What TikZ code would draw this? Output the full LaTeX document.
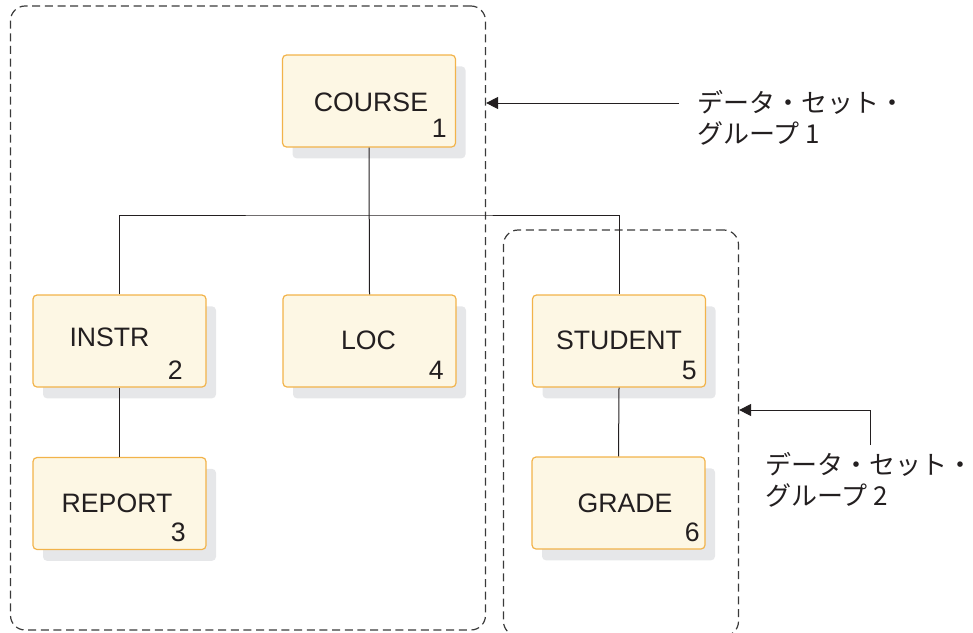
\documentclass[tikz,border=0pt]{standalone}
\usepackage{fontspec}
\setmainfont{Liberation Sans}
\newfontfamily\jpfont{Noto Sans CJK JP}
\usetikzlibrary{arrows.meta,shadows}
\definecolor{boxfill}{HTML}{FDF7E4}
\definecolor{boxline}{HTML}{F2B34A}
\definecolor{shadowgray}{HTML}{E6E7E9}
\definecolor{dashgray}{HTML}{3A3A3A}
\definecolor{inkcol}{HTML}{231F20}
\begin{document}
\begin{tikzpicture}[x=0.75pt,y=-0.75pt,
  segbox/.style={draw=boxline, line width=0.9pt, fill=boxfill, rounded corners=3pt,
    minimum width=129.75pt, minimum height=69pt, inner sep=0pt,
    drop shadow={shadow xshift=7.5pt, shadow yshift=-8.5pt, fill=shadowgray, opacity=1}},
  segname/.style={anchor=base, inner sep=0pt, text=inkcol, font=\fontsize{20}{24}\selectfont},
  segnum/.style={anchor=base east, inner sep=0pt, text=inkcol, font=\fontsize{20}{24}\selectfont},
  grpbox/.style={draw=dashgray, line width=0.9pt, dash pattern=on 6pt off 3.5pt,
    rounded corners=11pt, inner sep=0pt},
  link/.style={draw=inkcol, line width=0.75pt},
  arr/.style={draw=inkcol, line width=0.75pt, -{Triangle[length=9pt,width=9pt]}},
  grplabel/.style={anchor=north west, inner sep=0pt, align=left, text=inkcol,
    font=\jpfont\fontsize{19.5}{23.25}\selectfont}
]
\useasboundingbox (0,0) rectangle (973,632);

% group boxes
\node[grpbox, minimum width=356.25pt, minimum height=468pt] (grp1) at (248,318) {};
\node[grpbox, minimum width=176.25pt, minimum height=304.5pt] (grp2) at (621,433) {};

% segments
\node[segbox] (course)  at (369,101) {};
\node[segbox] (instr)   at (119.5,341) {};
\node[segbox] (loc)     at (369.5,341) {};
\node[segbox] (student) at (619,341) {};
\node[segbox] (report)  at (119.5,503.5) {};
\node[segbox] (grade)   at (618.5,503) {};

% names and numbers
\node[segname] (tcourse)  at (371,111) {COURSE};
\node[segnum]  (ncourse)  at (447,137) {1};
\node[segname] (tinstr)   at (109.5,346) {INSTR};
\node[segnum]  (ninstr)   at (183,379) {2};
\node[segname] (tloc)     at (368.5,349) {LOC};
\node[segnum]  (nloc)     at (444,379) {4};
\node[segname] (tstudent) at (619,349) {STUDENT};
\node[segnum]  (nstudent) at (697,379) {5};
\node[segname] (treport)  at (117,512) {REPORT};
\node[segnum]  (nreport)  at (186,541) {3};
\node[segname] (tgrade)   at (625,512) {GRADE};
\node[segnum]  (ngrade)   at (700,541) {6};

% connectors
\coordinate (j) at (369,215);
\draw[link] (course.south) -- (loc.north);
\draw[link] (instr.north) |- (j) -| (student.north);
\draw[link] (instr.south) -- (report.north);
\draw[link] (student.south) -- (grade.north);

% group labels and arrows
\node[grplabel] (lab1) at (697,90) {データ・セット・\\グループ 1};
\node[grplabel] (lab2) at (765,452) {データ・セット・\\グループ 2};

\coordinate (a1) at (679,103);
\draw[arr] (a1) -- (grp1.east |- a1);
\coordinate (a2) at (870,445);
\coordinate (b2) at (870,410);
\draw[arr] (a2) -- (b2) -- (grp2.east |- b2);
\end{tikzpicture}
\end{document}
